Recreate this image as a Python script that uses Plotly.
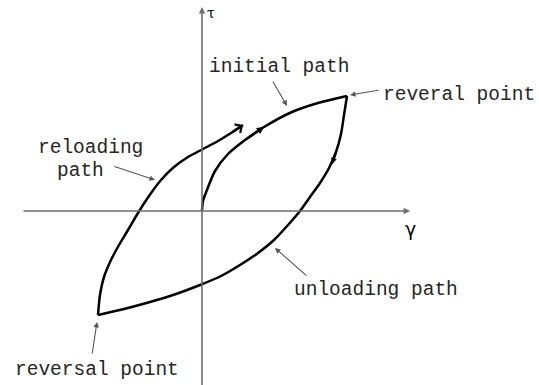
import plotly.graph_objects as go

# Hysteresis loop of shear stress (tau) vs shear strain (gamma)
initial_x = [0.00, 0.01, 0.05, 0.13, 0.26, 0.43, 0.62, 0.90, 1.16, 1.45]
initial_y = [0.00, 0.10, 0.21, 0.40, 0.57, 0.71, 0.84, 0.99, 1.08, 1.15]

unloading_x = [1.45, 1.42, 1.39, 1.34, 1.27, 1.18, 1.08, 0.98, 0.86, 0.72,
               0.56, 0.38, 0.19, -0.02, -0.26, -0.52, -0.78, -1.04]
unloading_y = [1.15, 0.96, 0.77, 0.59, 0.43, 0.28, 0.14, 0.00, -0.14, -0.29,
               -0.42, -0.54, -0.65, -0.74, -0.83, -0.91, -0.98, -1.04]

reloading_x = [-1.04, -1.02, -0.98, -0.91, -0.83, -0.74, -0.64, -0.53, -0.41,
               -0.28, -0.14, 0.01, 0.16, 0.29, 0.41]
reloading_y = [-1.04, -0.84, -0.66, -0.49, -0.34, -0.19, -0.02, 0.15, 0.31,
               0.44, 0.54, 0.62, 0.70, 0.78, 0.86]

# label text, label centre, pointer tail, pointer head
labels = [
    ("initial path", 0.77, 1.44, (0.70, 1.31), (0.85, 1.05)),
    ("reveral point", 2.57, 1.16, (1.78, 1.21), (1.48, 1.16)),
    ("reloading", -1.12, 0.63, None, None),
    ("path", -1.22, 0.40, (-0.89, 0.45), (-0.47, 0.31)),
    ("unloading path", 1.74, -0.79, (1.06, -0.66), (0.73, -0.37)),
    ("reversal point", -1.05, -1.59, (-1.10, -1.44), (-1.05, -1.11)),
]

X_RANGE = [-2.02, 3.37]
Y_RANGE = [-1.74, 2.11]

fig = go.Figure()
curve = dict(color="black", width=2.5, shape="spline", smoothing=0.8)
for xs, ys in [(initial_x, initial_y), (unloading_x, unloading_y),
               (reloading_x, reloading_y)]:
    fig.add_trace(go.Scatter(x=xs, y=ys, mode="lines", line=curve,
                             hoverinfo="skip", showlegend=False))

annotations = []

def arrow(tail, head, color, width, head_style, size):
    annotations.append(dict(
        x=head[0], y=head[1], ax=tail[0], ay=tail[1],
        xref="x", yref="y", axref="x", ayref="y",
        text="", showarrow=True, arrowhead=head_style, arrowsize=size,
        arrowwidth=width, arrowcolor=color, standoff=0, startstandoff=0))

# coordinate axes
arrow((-1.80, 0), (2.08, 0), "#6e6e6e", 1.6, 2, 0.8)
arrow((0, -1.80), (0, 2.04), "#6e6e6e", 1.6, 2, 0.8)

# direction markers on the loop
arrow((reloading_x[-2], reloading_y[-2]), (reloading_x[-1], reloading_y[-1]),
      "black", 2.2, 4, 0.9)
arrow((initial_x[5], initial_y[5]), (initial_x[6], initial_y[6]),
      "black", 2.4, 2, 0.6)
arrow((1.34, 0.59), (1.30, 0.47), "black", 2.4, 2, 0.5)

font = dict(family="Liberation Mono, Courier New, monospace", size=19.5,
            color="#262626")
for text, lx, ly, tail, head in labels:
    annotations.append(dict(x=lx, y=ly, xref="x", yref="y", text=text,
                            showarrow=False, font=font, borderpad=0,
                            xanchor="center", yanchor="middle"))
    if tail is not None:
        arrow(tail, head, "#555555", 1.1, 2, 1.0)

annotations.append(dict(x=0.09, y=1.98, xref="x", yref="y", text="τ",
                        showarrow=False, font=dict(family="DejaVu Serif",
                        size=14, color="black")))
annotations.append(dict(x=2.08, y=-0.18, xref="x", yref="y", text="γ",
                        showarrow=False, font=dict(family="DejaVu Sans",
                        size=19, color="black")))

fig.update_layout(
    width=539, height=385,
    margin=dict(l=0, r=0, t=0, b=0),
    paper_bgcolor="white", plot_bgcolor="white",
    xaxis=dict(range=X_RANGE, visible=False, fixedrange=True),
    yaxis=dict(range=Y_RANGE, visible=False, fixedrange=True),
    annotations=annotations,
    showlegend=False,
)

fig.write_html("out.html")
